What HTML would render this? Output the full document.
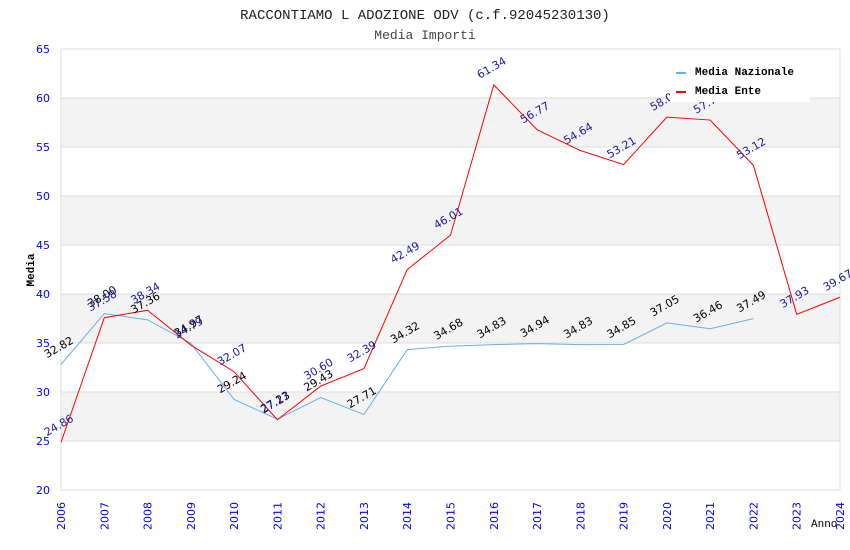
<!DOCTYPE html>
<html><head><meta charset="utf-8"><style>
body{margin:0;background:#fff;}
svg{display:block;}
</style></head><body>
<svg id="c" width="850" height="550" xmlns="http://www.w3.org/2000/svg">
<rect width="850" height="550" fill="#fff"/>
<text x="425" y="19" text-anchor="middle" font-family="Liberation Mono, monospace" font-size="14" fill="#222">RACCONTIAMO L ADOZIONE ODV (c.f.92045230130)</text>
<text x="425" y="39" text-anchor="middle" font-family="Liberation Mono, monospace" font-size="13" fill="#444">Media Importi</text>
<g id="grid"></g><g id="axes"></g><g id="series"></g><g id="labels"></g>
<text x="34" y="270" text-anchor="middle" transform="rotate(-90 34 270)" font-family="Liberation Mono, monospace" font-size="11" font-weight="bold" fill="#000">Media</text>
<text x="811" y="527" font-family="Liberation Mono, monospace" font-size="11" fill="#000">Anno</text>
<g>
<rect x="670" y="60" width="140" height="42" fill="#fff"/>
<line x1="676" y1="73" x2="686" y2="73" stroke="#6aaee8" stroke-width="2"/>
<text x="695" y="75" font-family="Liberation Mono, monospace" font-size="11" font-weight="bold" fill="#000">Media Nazionale</text>
<line x1="676" y1="92" x2="686" y2="92" stroke="#f00" stroke-width="2"/>
<text x="695" y="94" font-family="Liberation Mono, monospace" font-size="11" font-weight="bold" fill="#000">Media Ente</text>
</g>
</svg>
<script>
const years=[2006,2007,2008,2009,2010,2011,2012,2013,2014,2015,2016,2017,2018,2019,2020,2021,2022,2023,2024];
const nazionale=[32.82,38.00,37.36,34.97,29.24,27.23,29.43,27.71,34.32,34.68,34.83,34.94,34.83,34.85,37.05,36.46,37.49];
const ente=[24.86,37.58,38.34,34.79,32.07,27.17,30.60,32.39,42.49,46.01,61.34,56.77,54.64,53.21,58.05,57.75,53.12,37.93,39.67];
const yTicks=[20,25,30,35,40,45,50,55,60,65];
const NS="http://www.w3.org/2000/svg";
const X0=61,X1=840,Y0=490,Y1=49,YMIN=20,YMAX=65;
const xs=i=>X0+(X1-X0)*i/(years.length-1);
const ys=v=>Y0-(v-YMIN)*(Y0-Y1)/(YMAX-YMIN);
function mk(t,a,p){const e=document.createElementNS(NS,t);for(const k in a)e.setAttribute(k,a[k]);p.appendChild(e);return e;}
const grid=document.getElementById('grid'),axes=document.getElementById('axes'),ser=document.getElementById('series'),lab=document.getElementById('labels');
for(let i=0;i<yTicks.length-1;i++){
  if(i%2===1){const r=mk('rect',{x:X0,y:ys(yTicks[i+1]),width:X1-X0,height:ys(yTicks[i])-ys(yTicks[i+1]),fill:'#f3f3f3'},grid);
  
  }
}
yTicks.forEach(v=>{
  const l=mk('line',{x1:X0,x2:X1,y1:ys(v),y2:ys(v),stroke:'#ddd','stroke-width':1},grid);
  
  
  const t=mk('text',{x:X0-11,y:ys(v)+4,'text-anchor':'end','font-family':'DejaVu Sans, sans-serif','font-size':11,fill:'#00f'},axes);
  t.textContent=v;
  
  
});
mk('line',{x1:X0,x2:X0,y1:Y1,y2:Y0,stroke:'#ddd'},axes);
mk('line',{x1:X1,x2:X1,y1:Y1,y2:Y0,stroke:'#ddd'},axes);
years.forEach((y,i)=>{
  const x=xs(i);
  const t=mk('text',{x:x+4,y:530,'text-anchor':'start',transform:`rotate(-90 ${x+4} 530)`,'font-family':'DejaVu Sans, sans-serif','font-size':11,fill:'#00f'},axes);
  t.textContent=y;
  
  
});
function series(vals,color,lc,name){
  const p=mk('polyline',{points:vals.map((v,i)=>xs(i)+','+ys(v)).join(' '),fill:'none',stroke:color,'stroke-width':1},ser);
  
  
  vals.forEach((v,i)=>{
    const x=xs(i)-14,y=ys(v)-6;
    const t=mk('text',{x:x,y:y,transform:`rotate(-30 ${x} ${y})`,'font-family':'DejaVu Sans, sans-serif','font-size':11,fill:lc},lab);
    t.textContent=v.toFixed(2);
    
    
  });
}
series(nazionale,'#6aaee8','#000','nazionale');
series(ente,'#f00','#1a1aa0','ente');
</script>
</body></html>
